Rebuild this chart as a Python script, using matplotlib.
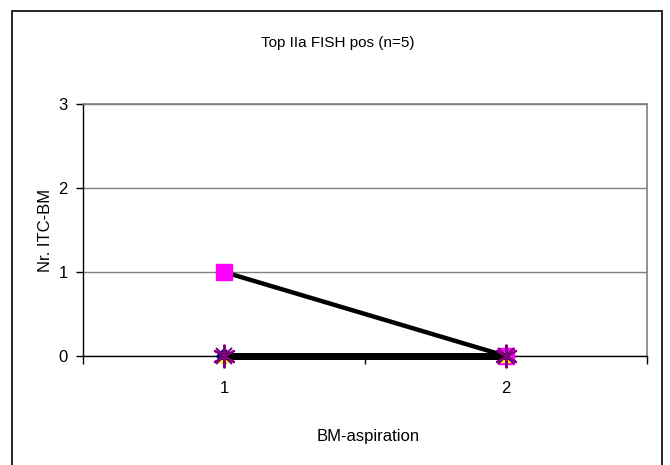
import matplotlib
matplotlib.use("Agg")
import matplotlib.pyplot as plt
from matplotlib.patches import Rectangle
from matplotlib import font_manager

# Data: number of ITC in bone marrow per patient at each aspiration
categories = ["1", "2"]
patient_a = [1, 0]
patient_b = [0, 0]
patient_c = [0, 0]
patient_d = [0, 0]
patient_e = [0, 0]

title_text = "Top IIa FISH pos (n=5)"
x_label = "BM-aspiration"
y_label = "Nr. ITC-BM"
y_ticks = [0, 1, 2, 3]

names = {f.name for f in font_manager.fontManager.ttflist}
narrow = "Liberation Sans Narrow" if "Liberation Sans Narrow" in names else "Liberation Sans"
plt.rcParams["font.family"] = ["Liberation Sans", "DejaVu Sans"]

fig = plt.figure(figsize=(6.7, 4.65), dpi=100)
fig.patch.set_facecolor("white")

# chart frame (runs past the lower edge)
fig.patches.append(Rectangle((12 / 670, -0.05), 650 / 670, (465 - 11) / 465 + 0.05,
                             transform=fig.transFigure, fill=False,
                             edgecolor="black", linewidth=1.2, zorder=0))

ax = fig.add_axes([83 / 670, 109 / 465, 564 / 670, 252 / 465])
x = [1, 2]

# lines (black) with series markers
ax.plot(x, patient_b, color="black", lw=5, marker="D", ms=8,
        mfc="#000080", mec="#000080", zorder=3, clip_on=False)
ax.plot(x, patient_a, color="black", lw=3.2, marker="s", ms=11,
        mfc="#FF00FF", mec="#FF00FF", zorder=3, clip_on=False)
ax.plot(x, patient_c, color="black", lw=5, marker="^", ms=8,
        mfc="#FFFF00", mec="#FFFF00", zorder=4, clip_on=False)
ax.plot(x, patient_d, color="black", lw=5, marker="x", ms=12, mew=1.5,
        mec="#800080", zorder=5, clip_on=False)
ax.plot(x, patient_e, color="black", lw=5, marker=(6, 2, 0), ms=17, mew=1.5,
        mec="#800080", zorder=6, clip_on=False)

ax.set_xlim(0.5, 2.5)
ax.set_ylim(0, 3)
ax.set_yticks(y_ticks)
ax.set_yticklabels([str(v) for v in y_ticks], fontsize=12)
ax.set_xticks([0.5, 1.5, 2.5])
ax.set_xticklabels([])
ax.set_xticks(x, minor=True)
ax.set_xticklabels(categories, minor=True, fontsize=12)
ax.tick_params(axis="x", which="minor", length=0, pad=18)
ax.tick_params(axis="x", which="major", length=6, width=1, direction="out")
ax.tick_params(axis="y", length=5, width=1, direction="out", pad=6)

ax.yaxis.grid(True, color="#808080", lw=1)
ax.set_axisbelow(True)
for side in ["top", "right"]:
    ax.spines[side].set_color("#808080")
    ax.spines[side].set_linewidth(1.2)
for side in ["left", "bottom"]:
    ax.spines[side].set_color("black")
    ax.spines[side].set_linewidth(1)

ax.set_ylabel(y_label, fontsize=12, labelpad=4)
fig.text(338 / 670, 1 - 43 / 465, title_text, ha="center", va="center",
         fontsize=11, family=[narrow, "DejaVu Sans"])
fig.text(368 / 670, 1 - 436 / 465, x_label, ha="center", va="center",
         fontsize=12, family=[narrow, "DejaVu Sans"])

fig.savefig("out.png", dpi=100, facecolor="white")
